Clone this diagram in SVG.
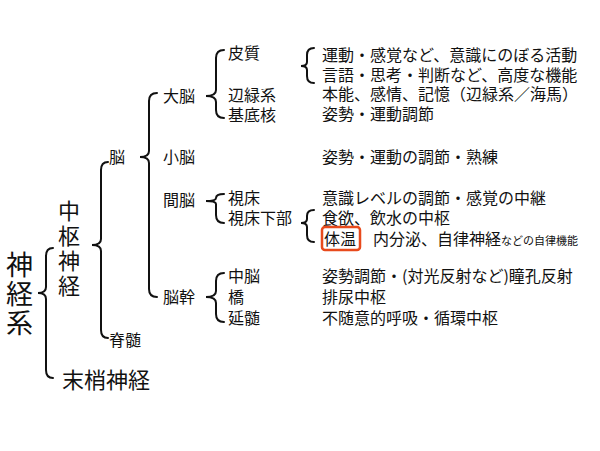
<svg xmlns="http://www.w3.org/2000/svg" width="600" height="451" viewBox="0 0 600 451">
<style>
text{font-family:"Noto Sans CJK JP","Noto Sans CJK SC",sans-serif;fill:#111;font-size:16px}
.b{fill:none;stroke:#111;stroke-width:2;stroke-linecap:round}
.v{font-size:22px}
.big{font-size:27px}
.s{font-size:11px}
</style>
<rect width="600" height="451" fill="#fff"/>
<g id="connectors">
<path class="b" d="M53 248 Q46 248 46 256 L46 287 Q46 293 38 293 Q46 293 46 299 L46 370 Q46 378 53 378"/>
<path class="b" d="M108 162 Q101 162 101 170 L101 239 Q101 245 92 245 Q101 245 101 251 L101 330 Q101 338 108 338"/>
<path class="b" d="M157 93 Q149 93 149 101 L149 151 Q149 157 140 157 Q149 157 149 163 L149 289 Q149 297 157 297"/>
<path class="b" d="M224 50 Q216 50 216 58 L216 90 Q216 96 206 96 Q216 96 216 102 L216 110 Q216 118 224 118"/>
<path class="b" d="M224 194 Q216 194 216 198 L216 198 Q216 201 206 201 Q216 201 216 204 L216 215 Q216 223 224 223"/>
<path class="b" d="M224 273 Q216 273 216 281 L216 291 Q216 297 206 297 Q216 297 216 303 L216 314 Q216 322 224 322"/>
<path class="b" d="M314 48 Q307 48 307 55 L307 62 Q307 66 301 66 Q307 66 307 70 L307 76 Q307 83 314 83"/>
<path class="b" d="M314 210 Q307 210 307 216 L307 219 Q307 223 301 223 Q307 223 307 227 L307 235 Q307 242 314 242"/>
<path d="M148 157 L158 157" class="b" stroke-opacity="0"/>
</g>
<g id="n-shinkei"><text class="big" x="6" y="275">神</text><text class="big" x="6" y="304">経</text><text class="big" x="6" y="333">系</text></g>
<g id="n-chusu"><text class="v" x="58" y="219">中</text><text class="v" x="58" y="244">枢</text><text class="v" x="58" y="269">神</text><text class="v" x="58" y="294">経</text></g>
<g id="n-masho"><text class="v" x="62" y="388">末梢神経</text></g>
<g id="n-no"><text x="109" y="163">脳</text></g>
<g id="n-sekizui"><text x="109" y="346">脊髄</text></g>
<g id="n-dainou"><text x="163" y="102">大脳</text></g>
<g id="n-shonou"><text x="163" y="163">小脳</text></g>
<g id="n-kannou"><text x="163" y="206">間脳</text></g>
<g id="n-noukan"><text x="163" y="303">脳幹</text></g>
<g id="n-hishitsu"><text x="228" y="59">皮質</text></g>
<g id="n-henen"><text x="228" y="101">辺緑系</text></g>
<g id="n-kitei"><text x="228" y="121">基底核</text></g>
<g id="n-shishou"><text x="228" y="204">視床</text></g>
<g id="n-kabu"><text x="228" y="224">視床下部</text></g>
<g id="n-chunou"><text x="228" y="282">中脳</text></g>
<g id="n-kyo"><text x="228" y="303">橋</text></g>
<g id="n-enzui"><text x="228" y="324">延髄</text></g>
<g id="desc">
<text x="322" y="61">運動・感覚など、意識にのぼる活動</text>
<text x="322" y="81">言語・思考・判断など、高度な機能</text>
<text x="322" y="100">本能、感情、記憶（辺緑系／海馬）</text>
<text x="322" y="120">姿勢・運動調節</text>
<text x="322" y="163">姿勢・運動の調節・熟練</text>
<text x="322" y="204">意識レベルの調節・感覚の中継</text>
<text x="322" y="224">食欲、飲水の中枢</text>
<rect x="322" y="227" width="38" height="23" rx="3" fill="none" stroke="#e84a1c" stroke-width="2.5"/>
<text x="324" y="245">体温</text>
<text x="373" y="245">内分泌、自律神経<tspan class="s">などの自律機能</tspan></text>
<text x="322" y="282">姿勢調節・(対光反射など)瞳孔反射</text>
<text x="322" y="303">排尿中枢</text>
<text x="322" y="324">不随意的呼吸・循環中枢</text>
</g>
</svg>
